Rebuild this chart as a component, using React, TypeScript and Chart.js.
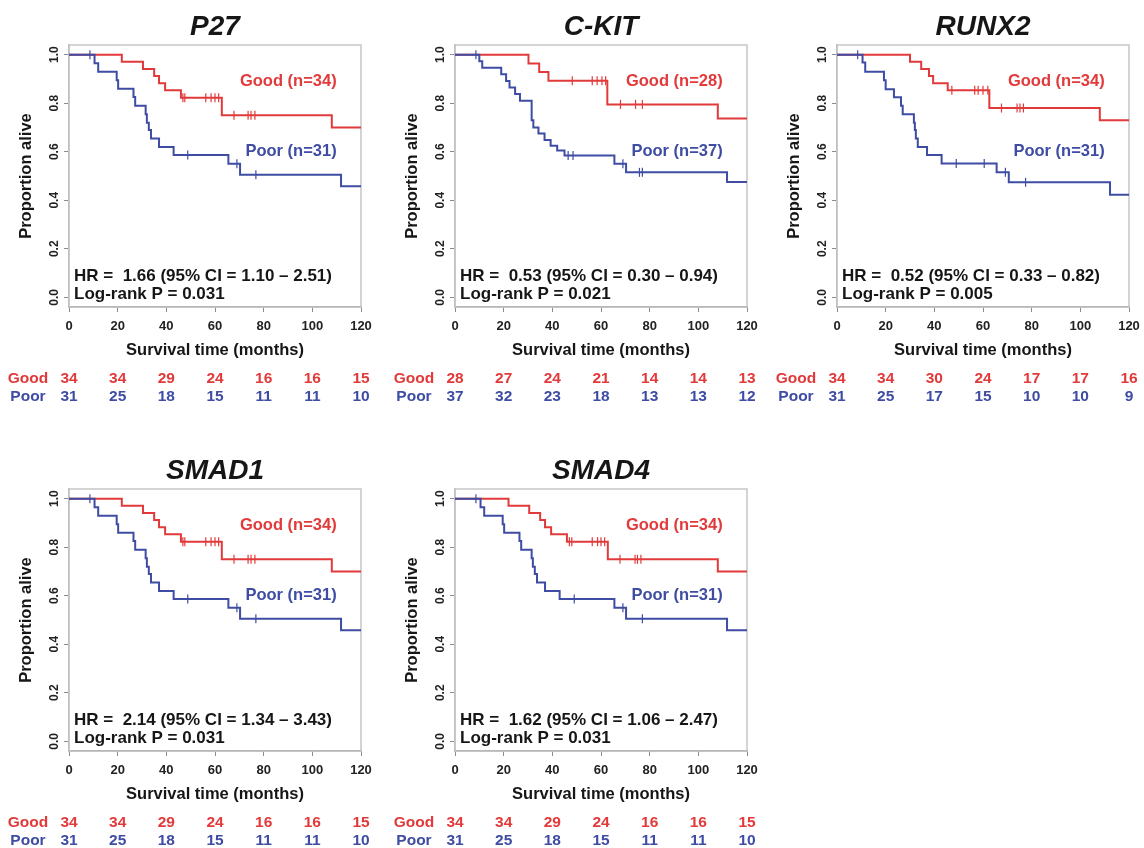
import React, { useEffect, useRef } from "react";
import { Chart, registerables } from "chart.js";

Chart.register(...registerables);

const FONT = '"Liberation Sans", Arial, Helvetica, sans-serif';
const RED = "#e23a3a";
const BLUE = "#3e4ca3";
const INK = "#161616";

const X_TICKS = [0, 20, 40, 60, 80, 100, 120];
const Y_TICKS = [0, 0.2, 0.4, 0.6, 0.8, 1.0];
const RISK_TIMES = [0, 20, 40, 60, 80, 100, 120];

// ---------- P27 ----------
const P27_GOOD_T = [0, 21.7, 30.4, 35, 37, 39.5, 46, 62.8, 108];
const P27_GOOD_S = [1, 0.971, 0.941, 0.912, 0.882, 0.853, 0.823, 0.75, 0.70];
const P27_GOOD_CENS = [46.8, 47.6, 56.2, 58.4, 60, 61.5, 67.8, 73.6, 74.8, 76.4];
const P27_POOR_T = [0, 10.5, 12, 19.6, 20.2, 26.5, 27.2, 31.5, 32, 32.8, 33.7, 37, 43, 65.5, 70.3, 111.8];
const P27_POOR_S = [1, 0.965, 0.93, 0.895, 0.86, 0.826, 0.79, 0.755, 0.72, 0.69, 0.655, 0.62, 0.587, 0.55, 0.505, 0.458];
const P27_POOR_CENS = [8.6, 48.8, 69, 76.8];
const P27_GOOD_RISK = [34, 34, 29, 24, 16, 16, 15];
const P27_POOR_RISK = [31, 25, 18, 15, 11, 11, 10];

// ---------- C-KIT ----------
const CKIT_GOOD_T = [0, 30.2, 34.6, 38.4, 62.6, 108];
const CKIT_GOOD_S = [1, 0.964, 0.929, 0.893, 0.795, 0.737];
const CKIT_GOOD_CENS = [48.2, 56.4, 58.4, 60.4, 61.9, 68, 74.2, 77];
const CKIT_POOR_T = [0, 10, 11.2, 19, 21, 22.4, 24.7, 26.7, 31.5, 32.2, 34.3, 36.8, 39.3, 42, 45, 65.5, 70.3, 111.8];
const CKIT_POOR_S = [1, 0.973, 0.946, 0.919, 0.892, 0.865, 0.838, 0.81, 0.73, 0.70, 0.675, 0.648, 0.625, 0.605, 0.584, 0.55, 0.515, 0.475];
const CKIT_POOR_CENS = [8.6, 46.5, 48.5, 69, 75.8, 77];
const CKIT_GOOD_RISK = [28, 27, 24, 21, 14, 14, 13];
const CKIT_POOR_RISK = [37, 32, 23, 18, 13, 13, 12];

// ---------- RUNX2 ----------
const RUNX2_GOOD_T = [0, 30, 34.6, 37.8, 39.5, 45.5, 62.6, 108];
const RUNX2_GOOD_S = [1, 0.971, 0.941, 0.912, 0.882, 0.853, 0.78, 0.73];
const RUNX2_GOOD_CENS = [47.2, 56.6, 58, 60, 62, 67.6, 74, 75.2, 76.6];
const RUNX2_POOR_T = [0, 10.5, 11.6, 19.3, 20, 23.4, 26.3, 27, 31.6, 32, 32.4, 33.2, 37, 43, 65.6, 70.6, 112.2];
const RUNX2_POOR_S = [1, 0.968, 0.93, 0.895, 0.858, 0.825, 0.79, 0.755, 0.72, 0.69, 0.655, 0.62, 0.587, 0.552, 0.515, 0.474, 0.423];
const RUNX2_POOR_CENS = [8.5, 49, 60.5, 69.2, 77.5];
const RUNX2_GOOD_RISK = [34, 34, 30, 24, 17, 17, 16];
const RUNX2_POOR_RISK = [31, 25, 17, 15, 10, 10, 9];

// ---------- SMAD1 ----------
const SMAD1_GOOD_T = [0, 21.7, 30.4, 35, 37, 39.5, 46, 62.8, 108];
const SMAD1_GOOD_S = [1, 0.971, 0.941, 0.912, 0.882, 0.853, 0.823, 0.75, 0.70];
const SMAD1_GOOD_CENS = [46.8, 47.6, 56.2, 58.4, 60, 61.5, 67.8, 73.6, 74.8, 76.4];
const SMAD1_POOR_T = [0, 10.5, 12, 19.6, 20.2, 26.5, 27.2, 31.5, 32, 32.8, 33.7, 37, 43, 65.5, 70.3, 111.8];
const SMAD1_POOR_S = [1, 0.965, 0.93, 0.895, 0.86, 0.826, 0.79, 0.755, 0.72, 0.69, 0.655, 0.62, 0.587, 0.55, 0.505, 0.458];
const SMAD1_POOR_CENS = [8.6, 48.8, 69, 76.8];
const SMAD1_GOOD_RISK = [34, 34, 29, 24, 16, 16, 15];
const SMAD1_POOR_RISK = [31, 25, 18, 15, 11, 11, 10];

// ---------- SMAD4 ----------
const SMAD4_GOOD_T = [0, 22, 30.5, 35, 37, 39.5, 46, 62.8, 108];
const SMAD4_GOOD_S = [1, 0.971, 0.941, 0.912, 0.882, 0.853, 0.823, 0.75, 0.70];
const SMAD4_GOOD_CENS = [47, 48, 56.4, 58.6, 60, 61.5, 67.8, 74, 75, 76.4];
const SMAD4_POOR_T = [0, 10.5, 12, 19.6, 20.2, 26.5, 27.2, 31.5, 32, 32.8, 33.7, 37, 43, 65.5, 70.3, 111.8];
const SMAD4_POOR_S = [1, 0.965, 0.93, 0.895, 0.86, 0.826, 0.79, 0.755, 0.72, 0.69, 0.655, 0.62, 0.587, 0.55, 0.505, 0.458];
const SMAD4_POOR_CENS = [8.6, 49, 69, 77];
const SMAD4_GOOD_RISK = [34, 34, 29, 24, 16, 16, 15];
const SMAD4_POOR_RISK = [31, 25, 18, 15, 11, 11, 10];

type PanelData = {
  title: string;
  goodLabel: string;
  poorLabel: string;
  hr: string;
  p: string;
  goodT: number[];
  goodS: number[];
  goodCens: number[];
  poorT: number[];
  poorS: number[];
  poorCens: number[];
  goodRisk: number[];
  poorRisk: number[];
};

const PANELS: PanelData[] = [
  { title: "P27", goodLabel: "Good (n=34)", poorLabel: "Poor (n=31)", hr: "HR =  1.66 (95% CI = 1.10 \u2013 2.51)", p: "Log-rank P = 0.031",
    goodT: P27_GOOD_T, goodS: P27_GOOD_S, goodCens: P27_GOOD_CENS, poorT: P27_POOR_T, poorS: P27_POOR_S, poorCens: P27_POOR_CENS, goodRisk: P27_GOOD_RISK, poorRisk: P27_POOR_RISK },
  { title: "C-KIT", goodLabel: "Good (n=28)", poorLabel: "Poor (n=37)", hr: "HR =  0.53 (95% CI = 0.30 \u2013 0.94)", p: "Log-rank P = 0.021",
    goodT: CKIT_GOOD_T, goodS: CKIT_GOOD_S, goodCens: CKIT_GOOD_CENS, poorT: CKIT_POOR_T, poorS: CKIT_POOR_S, poorCens: CKIT_POOR_CENS, goodRisk: CKIT_GOOD_RISK, poorRisk: CKIT_POOR_RISK },
  { title: "RUNX2", goodLabel: "Good (n=34)", poorLabel: "Poor (n=31)", hr: "HR =  0.52 (95% CI = 0.33 \u2013 0.82)", p: "Log-rank P = 0.005",
    goodT: RUNX2_GOOD_T, goodS: RUNX2_GOOD_S, goodCens: RUNX2_GOOD_CENS, poorT: RUNX2_POOR_T, poorS: RUNX2_POOR_S, poorCens: RUNX2_POOR_CENS, goodRisk: RUNX2_GOOD_RISK, poorRisk: RUNX2_POOR_RISK },
  { title: "SMAD1", goodLabel: "Good (n=34)", poorLabel: "Poor (n=31)", hr: "HR =  2.14 (95% CI = 1.34 \u2013 3.43)", p: "Log-rank P = 0.031",
    goodT: SMAD1_GOOD_T, goodS: SMAD1_GOOD_S, goodCens: SMAD1_GOOD_CENS, poorT: SMAD1_POOR_T, poorS: SMAD1_POOR_S, poorCens: SMAD1_POOR_CENS, goodRisk: SMAD1_GOOD_RISK, poorRisk: SMAD1_POOR_RISK },
  { title: "SMAD4", goodLabel: "Good (n=34)", poorLabel: "Poor (n=31)", hr: "HR =  1.62 (95% CI = 1.06 \u2013 2.47)", p: "Log-rank P = 0.031",
    goodT: SMAD4_GOOD_T, goodS: SMAD4_GOOD_S, goodCens: SMAD4_GOOD_CENS, poorT: SMAD4_POOR_T, poorS: SMAD4_POOR_S, poorCens: SMAD4_POOR_CENS, goodRisk: SMAD4_GOOD_RISK, poorRisk: SMAD4_POOR_RISK },
];

// layout (canvas placement on the page)
const POSITIONS = [
  { left: 0, top: 0 },
  { left: 386, top: 0 },
  { left: 768, top: 0 },
  { left: 0, top: 444 },
  { left: 386, top: 444 },
];
const CW = 376;
const CH = 405;
const AREA_LEFT = 69;
const AREA_TOP = 45;
const AREA_H = 262;
const PAD_RIGHT = 15;

function stepPoints(t: number[], s: number[]) {
  const pts = t.map((x, i) => ({ x, y: s[i] }));
  pts.push({ x: 120, y: s[s.length - 1] });
  return pts;
}
function survAt(t: number[], s: number[], x: number) {
  let v = s[0];
  for (let i = 0; i < t.length; i++) if (t[i] <= x) v = s[i];
  return v;
}

function Panel({ d, pos }: { d: PanelData; pos: { left: number; top: number } }) {
  const ref = useRef<HTMLCanvasElement | null>(null);
  useEffect(() => {
    if (!ref.current) return;
    const textPlugin = {
      id: "kmText",
      beforeDatasetsDraw(chart: any) {
        const { ctx, chartArea: a } = chart;
        ctx.save();
        ctx.strokeStyle = "#c6c6c6";
        ctx.lineWidth = 1.5;
        ctx.strokeRect(a.left, a.top, a.right - a.left, a.bottom - a.top);
        ctx.restore();
      },
      afterDraw(chart: any) {
        const { ctx, chartArea: a, scales } = chart;
        const xs = scales.x;
        const ys = scales.y;
        const cx = (a.left + a.right) / 2;
        ctx.save();
        // title
        ctx.fillStyle = INK;
        ctx.textAlign = "center";
        ctx.textBaseline = "middle";
        ctx.font = `italic bold 28px ${FONT}`;
        ctx.fillText(d.title, cx, a.top - 18);
        // axis titles
        ctx.font = `bold 16.5px ${FONT}`;
        ctx.fillText("Survival time (months)", cx, a.bottom + 43);
        ctx.save();
        ctx.translate(26.5, (a.top + a.bottom) / 2);
        ctx.rotate(-Math.PI / 2);
        ctx.fillText("Proportion alive", 0, 0);
        ctx.restore();
        // group labels
        ctx.textAlign = "right";
        ctx.fillStyle = RED;
        ctx.fillText(d.goodLabel, xs.getPixelForValue(110), ys.getPixelForValue(0.888));
        ctx.fillStyle = BLUE;
        ctx.fillText(d.poorLabel, xs.getPixelForValue(110), ys.getPixelForValue(0.6));
        // HR text
        ctx.textAlign = "left";
        ctx.fillStyle = INK;
        ctx.font = `bold 17px ${FONT}`;
        ctx.fillText(d.hr, a.left + 5, ys.getPixelForValue(0.086));
        ctx.fillText(d.p, a.left + 5, ys.getPixelForValue(0.011));
        // numbers at risk
        ctx.font = `bold 15.5px ${FONT}`;
        ctx.textAlign = "center";
        const yG = a.bottom + 72;
        const yP = a.bottom + 89.5;
        ctx.fillStyle = RED;
        ctx.fillText("Good", a.left - 41, yG);
        d.goodRisk.forEach((n, i) => ctx.fillText(String(n), xs.getPixelForValue(RISK_TIMES[i]), yG));
        ctx.fillStyle = BLUE;
        ctx.fillText("Poor", a.left - 41, yP);
        d.poorRisk.forEach((n, i) => ctx.fillText(String(n), xs.getPixelForValue(RISK_TIMES[i]), yP));
        ctx.restore();
      },
    };

    const chart = new Chart(ref.current, {
      type: "line",
      data: {
        datasets: [
          {
            label: "Poor censored",
            data: d.poorCens.map((x) => ({ x, y: survAt(d.poorT, d.poorS, x) })),
            showLine: false,
            pointStyle: "line",
            rotation: 90,
            pointRadius: 4.5,
            pointBorderWidth: 1.2,
            pointBorderColor: BLUE,
            borderColor: BLUE,
          } as any,
          {
            label: "Poor",
            data: stepPoints(d.poorT, d.poorS),
            stepped: "before",
            borderColor: BLUE,
            borderWidth: 2,
            pointRadius: 0,
            fill: false,
          } as any,
          {
            label: "Good censored",
            data: d.goodCens.map((x) => ({ x, y: survAt(d.goodT, d.goodS, x) })),
            showLine: false,
            pointStyle: "line",
            rotation: 90,
            pointRadius: 4.5,
            pointBorderWidth: 1.2,
            pointBorderColor: RED,
            borderColor: RED,
          } as any,
          {
            label: "Good",
            data: stepPoints(d.goodT, d.goodS),
            stepped: "before",
            borderColor: RED,
            borderWidth: 2,
            pointRadius: 0,
            fill: false,
          } as any,
        ],
      },
      options: {
        animation: false,
        responsive: false,
        maintainAspectRatio: false,
        layout: { padding: { top: AREA_TOP, right: PAD_RIGHT, left: 0, bottom: 0 } },
        plugins: { legend: { display: false }, tooltip: { enabled: false }, title: { display: false } },
        scales: {
          x: {
            type: "linear",
            min: 0,
            max: 120,
            afterBuildTicks: (s: any) => { s.ticks = X_TICKS.map((v) => ({ value: v })); },
            afterFit: (s: any) => {
              s.height = CH - AREA_TOP - AREA_H;
              s.paddingLeft = 0;
              s.paddingRight = 0;
            },
            ticks: { color: "#222", font: { family: FONT, size: 13, weight: "bold" }, padding: 7, maxRotation: 0, minRotation: 0 },
            grid: { drawOnChartArea: false, drawTicks: true, tickLength: 5, color: "#8c8c8c" },
            border: { display: true, color: "#8c8c8c", width: 1.5 },
          },
          y: {
            type: "linear",
            min: -0.04,
            max: 1.04,
            afterBuildTicks: (s: any) => { s.ticks = Y_TICKS.map((v) => ({ value: v })); },
            afterFit: (s: any) => {
              s.width = AREA_LEFT;
              s.paddingTop = 0;
              s.paddingBottom = 0;
            },
            ticks: {
              color: "#222",
              font: { family: FONT, size: 12, weight: "bold" },
              minRotation: 90,
              maxRotation: 90,
              crossAlign: "center",
              padding: 1,
              callback: (v: any) => Number(v).toFixed(1),
            },
            grid: { drawOnChartArea: false, drawTicks: true, tickLength: 5, color: "#8c8c8c" },
            border: { display: true, color: "#b0b0b0", width: 1.5 },
          },
        },
      } as any,
      plugins: [textPlugin],
    });
    return () => chart.destroy();
  }, [d]);
  return (
    <canvas
      ref={ref}
      width={CW}
      height={CH}
      style={{ position: "absolute", left: pos.left, top: pos.top, width: CW, height: CH }}
    />
  );
}

export default function App() {
  return (
    <div style={{ position: "absolute", left: 0, top: 0, width: 1144, height: 848, background: "#fff", overflow: "hidden" }}>
      {PANELS.map((d, i) => (
        <Panel key={d.title} d={d} pos={POSITIONS[i]} />
      ))}
    </div>
  );
}
